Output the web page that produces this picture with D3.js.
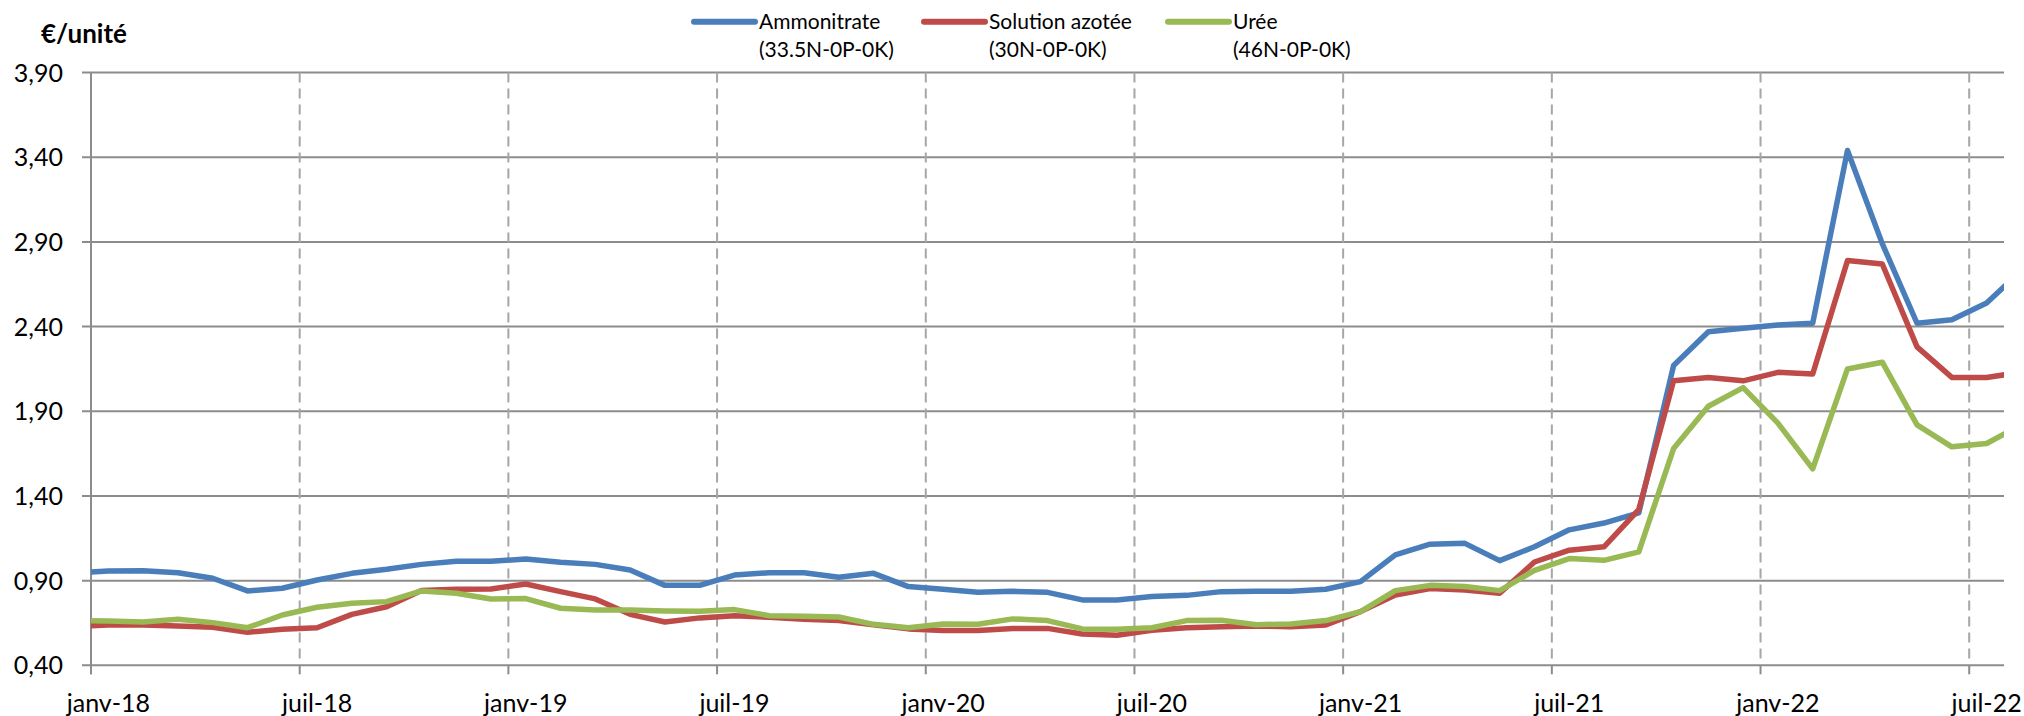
<!DOCTYPE html>
<html>
<head>
<meta charset="utf-8">
<script src="https://cdn.jsdelivr.net/npm/d3@7"></script>
<style>
  html, body { margin: 0; padding: 0; background: #fff; }
  svg { display: block; font-family: Lato, "Open Sans", sans-serif; }
</style>
</head>
<body>
<div id="chart"></div>
<script>
// Months from déc-17 (index -1) to août-22 (index 55)
const firstMonth = -1;

const ammonitrate = [
  0.945, 0.957, 0.959, 0.947, 0.914, 0.839, 0.855, 0.904, 0.943, 0.967, 0.996, 1.014, 1.014,
  1.028, 1.008, 0.996, 0.963, 0.872, 0.872, 0.933, 0.947, 0.947, 0.920, 0.943, 0.865,
  0.849, 0.831, 0.837, 0.831, 0.786, 0.786, 0.806, 0.813, 0.835, 0.837, 0.837, 0.849,
  0.894, 1.052, 1.115, 1.120, 1.018, 1.10, 1.20, 1.24, 1.30, 2.17, 2.37, 2.39,
  2.41, 2.42, 3.44, 2.89, 2.42, 2.44, 2.54, 2.73
];
const solution = [
  0.630, 0.638, 0.638, 0.632, 0.624, 0.595, 0.613, 0.622, 0.701, 0.746, 0.841, 0.849, 0.851,
  0.880, 0.835, 0.792, 0.701, 0.656, 0.680, 0.693, 0.683, 0.672, 0.664, 0.640, 0.615,
  0.605, 0.605, 0.618, 0.618, 0.585, 0.577, 0.607, 0.622, 0.628, 0.632, 0.628, 0.638,
  0.717, 0.815, 0.853, 0.845, 0.825, 1.01, 1.08, 1.10, 1.32, 2.08, 2.10, 2.08,
  2.13, 2.12, 2.79, 2.77, 2.28, 2.10, 2.10, 2.13
];
const uree = [
  0.665, 0.662, 0.656, 0.672, 0.652, 0.622, 0.697, 0.743, 0.766, 0.776, 0.839, 0.825, 0.792,
  0.794, 0.737, 0.727, 0.727, 0.721, 0.719, 0.729, 0.693, 0.689, 0.685, 0.642, 0.622,
  0.644, 0.642, 0.674, 0.664, 0.615, 0.613, 0.622, 0.664, 0.666, 0.640, 0.644, 0.664,
  0.717, 0.841, 0.872, 0.865, 0.841, 0.96, 1.03, 1.02, 1.07, 1.68, 1.93, 2.04,
  1.83, 1.56, 2.15, 2.19, 1.82, 1.69, 1.71, 1.82
];

const tickMonths = [0, 6, 12, 18, 24, 30, 36, 42, 48, 54];
const tickLabels = ["janv-18", "juil-18", "janv-19", "juil-19", "janv-20", "juil-20",
                    "janv-21", "juil-21", "janv-22", "juil-22"];
const yTicks = [0.4, 0.9, 1.4, 1.9, 2.4, 2.9, 3.4, 3.9];

const series = [
  { name: "Ammonitrate", sub: "(33.5N-0P-0K)", color: "#4a7ebb", values: ammonitrate, lx: 694 },
  { name: "Solution azotée", sub: "(30N-0P-0K)", color: "#be4b48", values: solution, lx: 924 },
  { name: "Urée", sub: "(46N-0P-0K)", color: "#98b954", values: uree, lx: 1168 }
];

const W = 2024, H = 716;
const plotLeft = 91, plotRight = 2004, plotTop = 72.6, plotBottom = 665.3;

const svg = d3.select("#chart").append("svg")
  .attr("width", W).attr("height", H);

const x = d3.scaleLinear().domain([0, 55]).range([plotLeft, plotRight]);
const y = d3.scaleLinear().domain([0.4, 3.9]).range([plotBottom, plotTop]);

// Horizontal gridlines
svg.append("g")
  .selectAll("line")
  .data(yTicks)
  .join("line")
  .attr("x1", plotLeft - 9).attr("x2", plotRight)
  .attr("y1", d => y(d)).attr("y2", d => y(d))
  .attr("stroke", "#8c8c8c").attr("stroke-width", 2);

// Vertical dashed gridlines (every 6 months)
svg.append("g")
  .selectAll("line")
  .data(tickMonths.slice(1))
  .join("line")
  .attr("x1", d => x(d)).attr("x2", d => x(d))
  .attr("y1", plotTop).attr("y2", plotBottom)
  .attr("stroke", "#a6a6a6").attr("stroke-width", 2)
  .attr("stroke-dasharray", "10,6");

// Tick marks below the x axis
svg.append("g")
  .selectAll("line")
  .data(tickMonths)
  .join("line")
  .attr("x1", d => x(d)).attr("x2", d => x(d))
  .attr("y1", plotBottom).attr("y2", plotBottom + 9)
  .attr("stroke", "#8c8c8c").attr("stroke-width", 2);

// Y axis line
svg.append("line")
  .attr("x1", plotLeft).attr("x2", plotLeft)
  .attr("y1", plotTop).attr("y2", plotBottom + 9)
  .attr("stroke", "#8c8c8c").attr("stroke-width", 2);

// Y tick labels
svg.append("g")
  .selectAll("text")
  .data(yTicks)
  .join("text")
  .attr("x", 63)
  .attr("y", d => y(d))
  .attr("dy", "0.36em")
  .attr("text-anchor", "end")
  .attr("font-size", 25)
  .attr("fill", "#000")
  .text(d => d3.format(".2f")(d).replace(".", ","));

// X tick labels, centred on the month
svg.append("g")
  .selectAll("text")
  .data(tickMonths)
  .join("text")
  .attr("x", d => x(d + 0.5))
  .attr("y", 712)
  .attr("text-anchor", "middle")
  .attr("font-size", 25)
  .attr("fill", "#000")
  .text((d, i) => tickLabels[i]);

// Unit title
svg.append("text")
  .attr("x", 41)
  .attr("y", 43)
  .attr("font-size", 26)
  .attr("font-weight", "bold")
  .text("€/unité");

// Clip for lines
svg.append("clipPath").attr("id", "plot-clip")
  .append("rect")
  .attr("x", plotLeft).attr("y", 0)
  .attr("width", plotRight - plotLeft).attr("height", H);

const line = d3.line()
  .x((d, i) => x(firstMonth + i + 0.5))
  .y(d => y(d));

const lines = svg.append("g").attr("clip-path", "url(#plot-clip)");
series.forEach(s => {
  lines.append("path")
    .datum(s.values)
    .attr("fill", "none")
    .attr("stroke", s.color)
    .attr("stroke-width", 5.5)
    .attr("stroke-linejoin", "round")
    .attr("stroke-linecap", "round")
    .attr("d", line);
});

// Legend
const legend = svg.append("g");
series.forEach(s => {
  legend.append("line")
    .attr("x1", s.lx).attr("x2", s.lx + 61)
    .attr("y1", 21.7).attr("y2", 21.7)
    .attr("stroke", s.color)
    .attr("stroke-width", 6)
    .attr("stroke-linecap", "round");
  legend.append("text")
    .attr("x", s.lx + 65).attr("y", 29)
    .attr("font-size", 21)
    .text(s.name);
  legend.append("text")
    .attr("x", s.lx + 65).attr("y", 57)
    .attr("font-size", 21)
    .text(s.sub);
});
</script>
</body>
</html>
